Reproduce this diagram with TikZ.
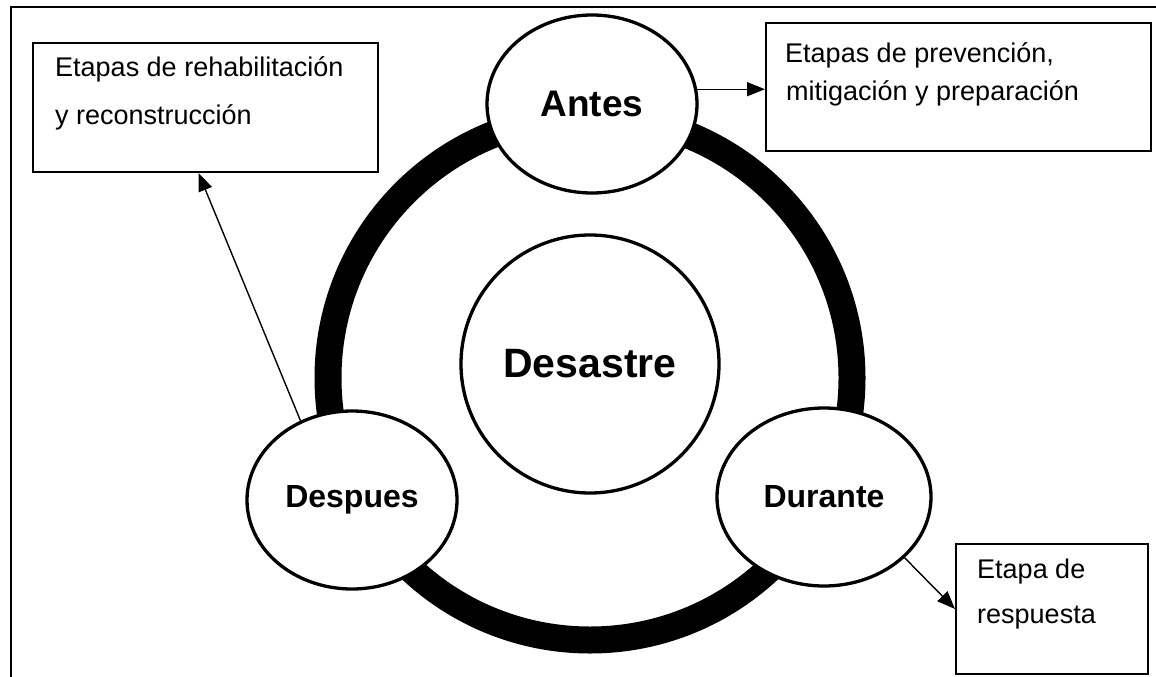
\documentclass[tikz,border=0pt]{standalone}
\usepackage{fontspec}
\setmainfont{Liberation Sans}
\usetikzlibrary{shapes.geometric,arrows.meta,calc}
\begin{document}
\begin{tikzpicture}[x=1pt,y=-1pt,
  phase/.style={ellipse, draw, line width=3.3pt, fill=white, minimum width=210pt, minimum height=178pt, inner sep=0pt, font=\bfseries\fontsize{32}{36}\selectfont},
  box/.style={rectangle, draw, line width=2pt, anchor=north west, inner sep=0pt},
  boxtext/.style={anchor=base west, inner sep=0pt, font=\fontsize{27}{31}\selectfont},
  arr/.style={line width=1.4pt, -{Triangle[length=18pt,width=14pt]}}]
\useasboundingbox (0,0) rectangle (1156,677);
% frame (top and left sides)
\draw[line width=2pt] (11,677) -- (11,7.5) -- (1156,7.5);
% thick ring
\draw[line width=27pt] (590,378) circle[radius=262];
% circles
\node[phase, minimum width=258pt, minimum height=258pt, font=\bfseries\fontsize{41}{45}\selectfont] (des) at (590,364) {Desastre};
\node[phase, font=\bfseries\fontsize{37}{40}\selectfont] (antes) at (592,104) {Antes};
\node[phase] (desp) at (352,500) {Despues};
\node[phase, minimum width=214pt] (dur) at (824,497) {Durante};
% boxes
\node[box, minimum width=345pt, minimum height=129pt] (tl) at (32,42) {};
\node[box, minimum width=385pt, minimum height=128pt] (tr) at (765,22) {};
\node[box, minimum width=192pt, minimum height=130pt] (br) at (955,543) {};
% box texts
\node[boxtext] (tl1) at (55,77) {Etapas de rehabilitación};
\node[boxtext] (tl2) at (55,124) {y reconstrucción};
\node[boxtext] (tr1) at (785,63) {Etapas de prevención,};
\node[boxtext] (tr2) at (786,100) {mitigación y preparación};
\node[boxtext] (br1) at (977,578) {Etapa de};
\node[boxtext] (br2) at (977,623) {respuesta};
% arrows
\draw[arr] (antes.8) -- (antes.8 -| tr.west);
\draw[arr] (dur.-37) -- (br.west);
\draw[arr] (desp.123) -- ($(tl.south)+(-7,0)$);
\end{tikzpicture}
\end{document}
